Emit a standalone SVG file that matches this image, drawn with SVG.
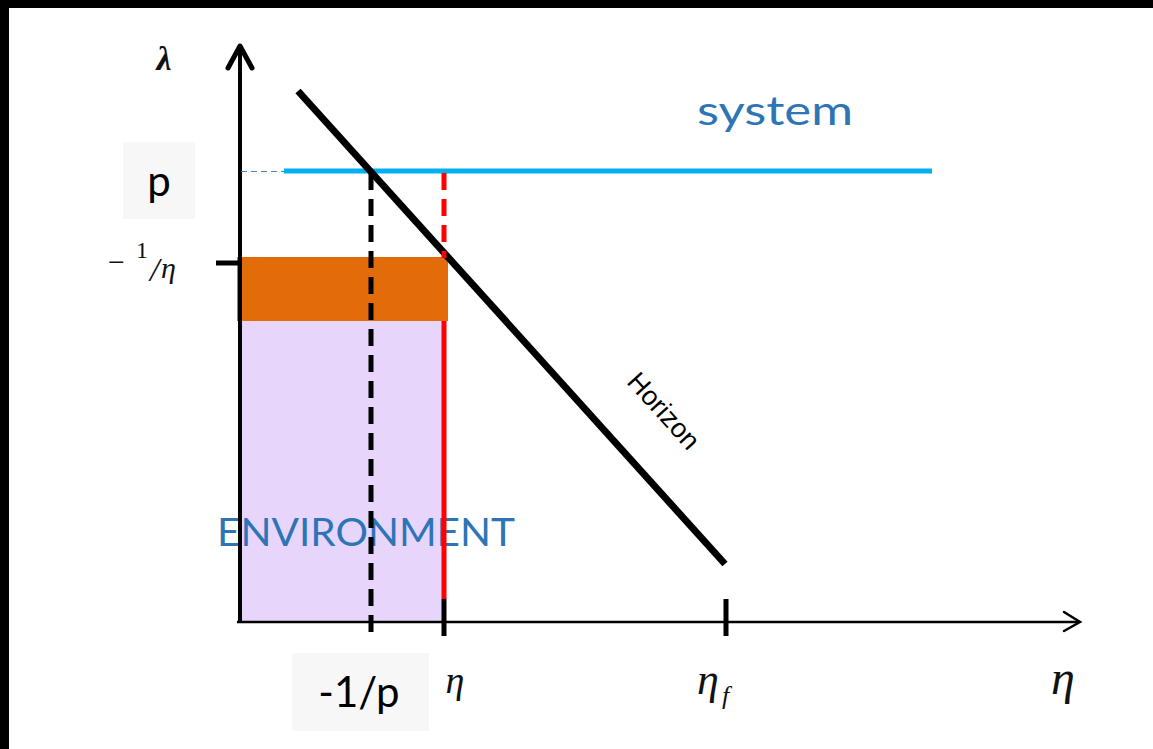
<svg xmlns="http://www.w3.org/2000/svg" width="1153" height="749" viewBox="0 0 1153 749">
<style>
.math{font-family:"Liberation Serif","DejaVu Serif",serif;fill:#111}
.it{font-style:italic}
.lbl{font-family:"Lato","Open Sans",sans-serif;fill:#2E75B6}
.box{fill:#F7F7F7}
.boxt{font-family:"Lato","Open Sans",sans-serif;fill:#000}
</style>
<rect x="0" y="0" width="1153" height="749" fill="#fff"/>
<rect x="0" y="0" width="1153" height="8" fill="#000"/>
<rect x="0" y="0" width="9" height="749" fill="#000"/>

<g id="environment">
<rect x="238" y="321" width="206" height="301" fill="#E8D5FC"/>
<line x1="239.5" y1="321" x2="239.5" y2="622" stroke="#5A3F6E" stroke-width="3"/>
<rect x="237" y="257" width="211" height="64" fill="#E36C0A"/>
<text class="lbl" x="217" y="546" font-size="38" textLength="298" lengthAdjust="spacingAndGlyphs">ENVIRONMENT</text>
</g>

<g id="connectors">
<line x1="240" y1="622" x2="240" y2="48" stroke="#000" stroke-width="4"/>
<polyline points="228,68 240,46 252,68" fill="none" stroke="#000" stroke-width="5" stroke-linecap="round" stroke-linejoin="round"/>
<line x1="237" y1="622" x2="1079" y2="622" stroke="#000" stroke-width="2.5"/>
<polyline points="1064,612 1080,622 1064,631" fill="none" stroke="#000" stroke-width="2.5" stroke-linecap="round"/>
<line x1="216" y1="263" x2="240" y2="263" stroke="#000" stroke-width="5"/>
<line x1="726" y1="599" x2="726" y2="636" stroke="#000" stroke-width="5"/>
<line x1="241" y1="171.5" x2="284" y2="171.5" stroke="#4F81BD" stroke-width="1.2" stroke-dasharray="6,4"/>
<line x1="284" y1="171" x2="932" y2="171" stroke="#00B0F0" stroke-width="5"/>
<line x1="298" y1="91" x2="725" y2="564" stroke="#000" stroke-width="7"/>
<line x1="371" y1="173" x2="371" y2="636" stroke="#000" stroke-width="5" stroke-dasharray="17,9"/>
<line x1="444" y1="173" x2="444" y2="258" stroke="#FF0000" stroke-width="5" stroke-dasharray="17,9"/>
<line x1="444" y1="321" x2="444" y2="599" stroke="#FF0000" stroke-width="5"/>
<line x1="444" y1="599" x2="444" y2="636" stroke="#000" stroke-width="5"/>
</g>

<g id="system">
<text class="lbl" x="697" y="125" font-size="40" textLength="156" lengthAdjust="spacingAndGlyphs">system</text>
</g>

<g id="horizon-label">
<text x="0" y="0" font-family="Liberation Sans, Arial, sans-serif" font-size="27" fill="#000" text-anchor="middle" transform="translate(657,417) rotate(47.9)">Horizon</text>
</g>

<g id="p-label">
<rect class="box" x="123" y="142" width="72" height="77"/>
<text class="boxt" x="159" y="196" font-size="42" text-anchor="middle">p</text>
</g>

<g id="inv-p-label">
<rect class="box" x="292" y="653" width="137" height="78"/>
<text class="boxt" x="359" y="707" font-size="42" text-anchor="middle">-1/p</text>
</g>

<g id="axis-labels">
<text class="math it" x="164" y="70" font-size="34" font-weight="bold" text-anchor="middle">λ</text>
<text class="math" x="108" y="272" font-size="30">−</text>
<text class="math" x="136" y="258" font-size="24">1</text>
<text class="math it" x="150" y="281" font-size="34">/</text>
<text class="math it" x="161" y="278" font-size="30">η</text>
<text class="math it" x="455" y="693" font-size="38" text-anchor="middle">η</text>
<text class="math it" x="697" y="694" font-size="44">η</text>
<text class="math it" x="722" y="704" font-size="26">f</text>
<text class="math it" x="1063" y="694" font-size="48" text-anchor="middle">η</text>
</g>
</svg>
